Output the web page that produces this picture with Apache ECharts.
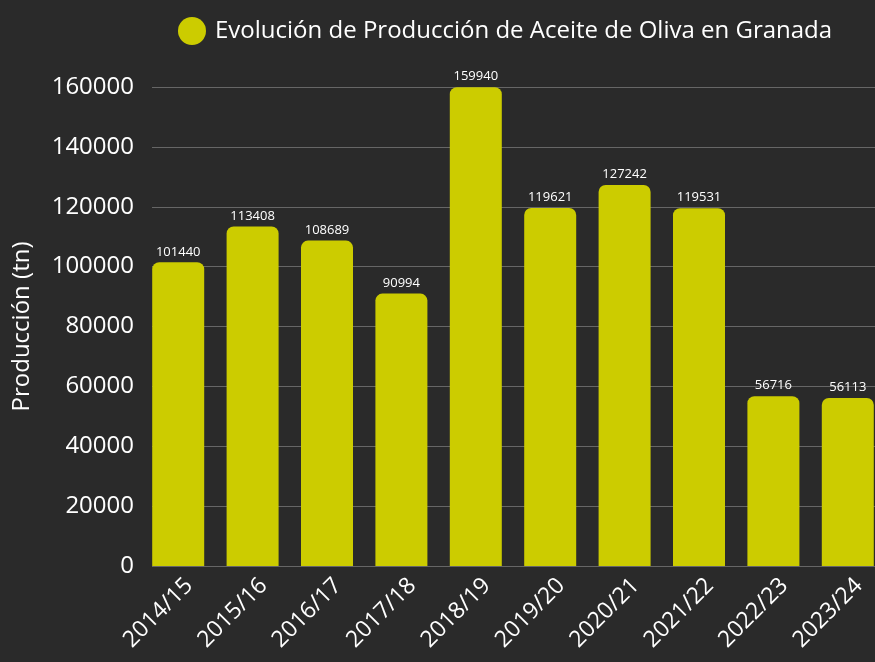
<!DOCTYPE html>
<html>
<head>
<meta charset="utf-8">
<script src="https://cdn.jsdelivr.net/npm/echarts@6/dist/echarts.min.js"></script>
<style>
html, body { margin: 0; padding: 0; background: #2a2a2a; }
#chart { width: 875px; height: 662px; }
</style>
</head>
<body>
<div id="chart"></div>
<script>
// datos
var campanas = ['2014/15', '2015/16', '2016/17', '2017/18', '2018/19', '2019/20', '2020/21', '2021/22', '2022/23', '2023/24'];
var produccion = [101440, 113408, 108689, 90994, 159940, 119621, 127242, 119531, 56716, 56113];
var ejeMax = 160000;
var ejePaso = 20000;

var chart = echarts.init(document.getElementById('chart'));

var option = {
    backgroundColor: '#2a2a2a',
    textStyle: { fontFamily: 'Open Sans' },
    legend: {
        left: 173,
        top: 12,
        itemWidth: 36,
        itemHeight: 28,
        itemGap: 10,
        icon: 'circle',
        textStyle: { color: '#ffffff', fontSize: 24, fontFamily: 'Open Sans' },
        data: ['Evolución de Producción de Aceite de Oliva en Granada']
    },
    // grid 0: ejes, etiquetas y líneas; grid 1: barras (desplazadas como en el original)
    grid: [
        { left: 152, width: 744, top: 87, bottom: 96, outerBoundsMode: 'none' },
        { left: 141, width: 744, top: 87, bottom: 96, outerBoundsMode: 'none' }
    ],
    xAxis: [{
        type: 'category',
        gridIndex: 0,
        data: campanas,
        axisLine: { show: false },
        axisTick: { show: false },
        axisLabel: {
            color: '#ffffff',
            fontSize: 23,
            rotate: 45,
            interval: 0,
            margin: 16
        }
    }, {
        type: 'category',
        gridIndex: 1,
        data: campanas,
        show: false
    }],
    yAxis: [{
        type: 'value',
        gridIndex: 0,
        min: 0,
        max: ejeMax,
        interval: ejePaso,
        name: 'Producción (tn)',
        nameLocation: 'middle',
        nameGap: 118,
        nameTextStyle: { color: '#ffffff', fontSize: 24 },
        axisLabel: {
            color: '#ffffff',
            fontSize: 24,
            margin: 18,
            formatter: function (v) { return String(v); }
        },
        splitLine: { lineStyle: { color: '#666666', width: 1 } }
    }, {
        type: 'value',
        gridIndex: 1,
        min: 0,
        max: ejeMax,
        interval: ejePaso,
        show: false,
        splitLine: { show: false }
    }],
    series: [{
        name: 'Evolución de Producción de Aceite de Oliva en Granada',
        type: 'bar',
        xAxisIndex: 1,
        yAxisIndex: 1,
        data: produccion,
        barWidth: 52,
        itemStyle: { color: '#cccc00', borderRadius: [7, 7, 0, 0] },
        label: {
            show: true,
            position: 'top',
            color: '#ffffff',
            fontSize: 13,
            distance: 4
        }
    }]
};
chart.setOption(option);
</script>
</body>
</html>
